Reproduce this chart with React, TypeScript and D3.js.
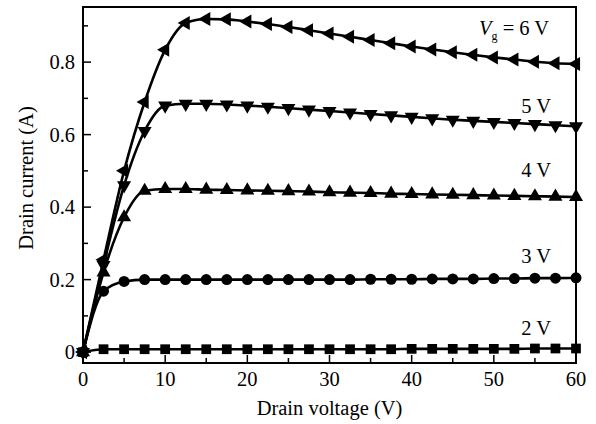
import React from 'react';
import * as d3 from 'd3';

// drain voltage (V), one marker every 2.5 V
const drainVoltage = [0, 2.5, 5, 7.5, 10, 12.5, 15, 17.5, 20, 22.5, 25, 27.5, 30, 32.5, 35, 37.5, 40, 42.5, 45, 47.5, 50, 52.5, 55, 57.5, 60];

// drain current (A) for each gate voltage
const vg2 = [0, 0.008, 0.008, 0.008, 0.008, 0.008, 0.008, 0.008, 0.008, 0.008, 0.008, 0.008, 0.008, 0.008, 0.008, 0.008, 0.009, 0.009, 0.009, 0.009, 0.009, 0.009, 0.01, 0.01, 0.01];
const vg3 = [0, 0.168, 0.195, 0.2, 0.2, 0.2, 0.2, 0.2, 0.2, 0.2, 0.2, 0.2, 0.2, 0.2, 0.201, 0.201, 0.201, 0.202, 0.202, 0.202, 0.203, 0.203, 0.204, 0.204, 0.205];
const vg4 = [0, 0.22, 0.372, 0.445, 0.45, 0.45, 0.448, 0.447, 0.446, 0.445, 0.444, 0.443, 0.441, 0.44, 0.439, 0.437, 0.436, 0.435, 0.434, 0.433, 0.432, 0.431, 0.43, 0.429, 0.428];
const vg5 = [0, 0.24, 0.46, 0.61, 0.68, 0.685, 0.685, 0.683, 0.68, 0.677, 0.673, 0.669, 0.665, 0.661, 0.657, 0.653, 0.649, 0.645, 0.641, 0.638, 0.635, 0.632, 0.629, 0.626, 0.623];
const vg6 = [0, 0.255, 0.5, 0.69, 0.834, 0.908, 0.919, 0.918, 0.912, 0.905, 0.897, 0.888, 0.879, 0.87, 0.861, 0.852, 0.843, 0.835, 0.827, 0.82, 0.813, 0.807, 0.801, 0.797, 0.795];

const seriesLabels = ['2 V', '3 V', '4 V', '5 V', '6 V'];
const labelY = [0.047, 0.245, 0.483, 0.66, 0.875];

const xTicks = [0, 10, 20, 30, 40, 50, 60];
const xMinor = [5, 15, 25, 35, 45, 55];
const yTicks = [0, 0.2, 0.4, 0.6, 0.8];
const yMinor = [0.1, 0.3, 0.5, 0.7, 0.9];

const W = 596;
const H = 424;
const left = 83, right = 576, top = 7, bottom = 363;
const font = '"Liberation Serif", "Times New Roman", serif';
const fs = 20.5;

const x = d3.scaleLinear().domain([0, 60]).range([left, right]);
const y = d3.scaleLinear().domain([-0.03, 0.952]).range([bottom, top]);

const line = d3.line<number>()
  .x((d, i) => x(drainVoltage[i]))
  .y(d => y(d))
  .curve(d3.curveMonotoneX);

const series = [
  { values: vg2, symbol: d3.symbolSquare, size: 95, rot: 0 },
  { values: vg3, symbol: d3.symbolCircle, size: 95, rot: 0 },
  { values: vg4, symbol: d3.symbolTriangle, size: 85, rot: 0 },
  { values: vg5, symbol: d3.symbolTriangle, size: 85, rot: 180 },
  { values: vg6, symbol: d3.symbolTriangle, size: 85, rot: -90 },
];

export default function App() {
  return (
    <svg width={W} height={H} style={{ position: 'absolute', left: 0, top: 0, background: '#fff' }}>
      {series.map((s, k) => {
        const path = d3.symbol().type(s.symbol).size(s.size)() as string;
        return (
          <g key={k}>
            <path d={line(s.values) as string} fill="none" stroke="#000" strokeWidth={2.6} />
            {s.values.map((v, i) => (
              <path key={i} d={path} fill="#000"
                transform={`translate(${x(drainVoltage[i])},${y(v)}) rotate(${s.rot})`} />
            ))}
          </g>
        );
      })}

      {/* frame */}
      <rect x={left} y={top} width={right - left} height={bottom - top} fill="none" stroke="#000" strokeWidth={2} />

      {/* ticks, pointing inward */}
      {xTicks.map(t => (
        <g key={'x' + t}>
          <line x1={x(t)} x2={x(t)} y1={bottom} y2={bottom - 8} stroke="#000" strokeWidth={1.5} />
          <text x={x(t)} y={386} textAnchor="middle" fontFamily={font} fontSize={fs}>{t}</text>
        </g>
      ))}
      {xMinor.map(t => (
        <line key={'xm' + t} x1={x(t)} x2={x(t)} y1={bottom} y2={bottom - 5} stroke="#000" strokeWidth={1.5} />
      ))}
      {yTicks.map(t => (
        <g key={'y' + t}>
          <line x1={left} x2={left + 8} y1={y(t)} y2={y(t)} stroke="#000" strokeWidth={1.5} />
          <text x={75} y={y(t) + 7} textAnchor="end" fontFamily={font} fontSize={fs}>{t === 0 ? '0' : t.toFixed(1)}</text>
        </g>
      ))}
      {yMinor.map(t => (
        <line key={'ym' + t} x1={left} x2={left + 5} y1={y(t)} y2={y(t)} stroke="#000" strokeWidth={1.5} />
      ))}

      {/* series labels */}
      {seriesLabels.map((l, i) => i < 4 ? (
        <text key={l} x={551} y={y(labelY[i])} textAnchor="end" fontFamily={font} fontSize={fs}>{l}</text>
      ) : (
        <text key={l} x={479} y={y(labelY[i])} fontFamily={font} fontSize={fs}>
          <tspan fontStyle="italic">V</tspan>
          <tspan fontSize={12} dy={5}>g</tspan>
          <tspan dy={-5}> = {l}</tspan>
        </text>
      ))}

      {/* axis titles */}
      <text x={(left + right) / 2} y={415} textAnchor="middle" fontFamily={font} fontSize={fs}>Drain voltage (V)</text>
      <text transform={`translate(33,178) rotate(-90)`} textAnchor="middle" fontFamily={font} fontSize={fs}>Drain current (A)</text>
    </svg>
  );
}
